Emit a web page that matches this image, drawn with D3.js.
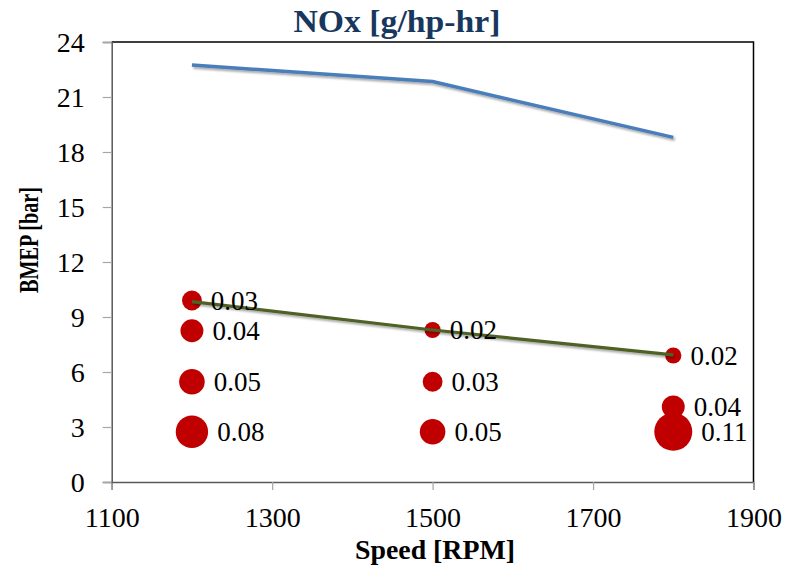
<!DOCTYPE html>
<html>
<head>
<meta charset="utf-8">
<script src="https://cdn.jsdelivr.net/npm/d3@7"></script>
<style>
  body { margin: 0; background: #fff; }
  svg { display: block; }
</style>
</head>
<body>
<svg id="chart" width="791" height="568"></svg>
<script>
'use strict';

// full load curve (max BMEP) and the green operating line
let speeds = [1200, 1500, 1800];
let maxBmep = [22.75, 21.84, 18.8];
let lineBmep = [9.84, 8.29, 6.93];

// bubbles: NOx values at speed / BMEP points
let bubbleSpeed = [1200, 1200, 1200, 1200, 1500, 1500, 1500, 1800, 1800, 1800];
let bubbleBmep = [9.9, 8.25, 5.47, 2.74, 8.29, 5.47, 2.74, 6.9, 4.1, 2.74];
let bubbleNox = [0.03, 0.04, 0.05, 0.08, 0.02, 0.03, 0.05, 0.02, 0.04, 0.11];

let xTicks = [1100, 1300, 1500, 1700, 1900];
let yTicks = [0, 3, 6, 9, 12, 15, 18, 21, 24];

let svg = d3.select('#chart');
let plotLeft = 111.7, plotRight = 753.5, plotTop = 42, plotBottom = 482;

let x = d3.scaleLinear().domain([1100, 1900]).range([plotLeft, plotRight]);
let y = d3.scaleLinear().domain([0, 24]).range([plotBottom, plotTop]);
let r = d3.scaleSqrt().domain([0, 0.11]).range([0, 19]);

let defs = svg.append('defs');
let shadow = defs.append('filter')
  .attr('id', 'shadow')
  .attr('x', '-10%').attr('y', '-50%')
  .attr('width', '120%').attr('height', '200%');
shadow.append('feDropShadow')
  .attr('dx', 1.5).attr('dy', 2)
  .attr('stdDeviation', 1.2)
  .attr('flood-color', '#000')
  .attr('flood-opacity', 0.35);

// frame: top and right
svg.append('path')
  .attr('d', 'M' + plotLeft + ',' + plotTop + 'H' + plotRight + 'V' + plotBottom)
  .attr('fill', 'none')
  .attr('stroke', '#000')
  .attr('stroke-width', 1.5);

let serif = '"Liberation Serif", "DejaVu Serif", serif';

let xAxis = svg.append('g')
  .attr('transform', 'translate(0,' + plotBottom + ')')
  .call(d3.axisBottom(x).tickValues(xTicks).tickFormat(d3.format('d'))
    .tickSize(8).tickPadding(17));
let yAxis = svg.append('g')
  .attr('transform', 'translate(' + plotLeft + ',0)')
  .call(d3.axisLeft(y).tickValues(yTicks).tickSize(9).tickPadding(18));

[xAxis, yAxis].forEach(function(g) {
  g.select('.domain').attr('stroke', '#5a5a5a').attr('stroke-width', 1.5);
  g.selectAll('.tick line').attr('stroke', '#a6a6a6').attr('stroke-width', 1.2);
  g.selectAll('.tick text')
    .attr('fill', '#000')
    .style('font-family', serif)
    .style('font-size', '28px');
});
yAxis.selectAll('.tick text').attr('dy', '0.34em');

let line = d3.line()
  .x(function(d) { return x(d[0]); })
  .y(function(d) { return y(d[1]); });

svg.append('path')
  .datum(d3.zip(speeds, maxBmep))
  .attr('d', line)
  .attr('fill', 'none')
  .attr('stroke', '#4a7ebb')
  .attr('stroke-width', 3.5)
  .attr('filter', 'url(#shadow)');

let bubbles = d3.range(bubbleNox.length).map(function(i) {
  return {speed: bubbleSpeed[i], bmep: bubbleBmep[i], nox: bubbleNox[i]};
});

svg.selectAll('circle.bubble')
  .data(bubbles)
  .enter()
  .append('circle')
  .attr('class', 'bubble')
  .attr('cx', function(d) { return x(d.speed); })
  .attr('cy', function(d) { return y(d.bmep); })
  .attr('r', function(d) { return r(d.nox); })
  .attr('fill', '#c00000');

svg.append('path')
  .datum(d3.zip(speeds, lineBmep))
  .attr('d', line)
  .attr('fill', 'none')
  .attr('stroke', '#4f6228')
  .attr('stroke-width', 3.2)
  .attr('filter', 'url(#shadow)');

svg.selectAll('text.bubble-label')
  .data(bubbles)
  .enter()
  .append('text')
  .attr('class', 'bubble-label')
  .attr('x', function(d) { return x(d.speed) + r(d.nox) + 9; })
  .attr('y', function(d) { return y(d.bmep); })
  .attr('dy', '0.34em')
  .style('font-family', serif)
  .style('font-size', '27px')
  .attr('fill', '#000')
  .text(function(d) { return d3.format('.2f')(d.nox); });

svg.append('text')
  .attr('x', 397)
  .attr('y', 32)
  .attr('text-anchor', 'middle')
  .attr('textLength', 207)
  .attr('lengthAdjust', 'spacingAndGlyphs')
  .style('font-family', serif)
  .style('font-weight', 'bold')
  .style('font-size', '31px')
  .attr('fill', '#17375e')
  .text('NOx [g/hp-hr]');

svg.append('text')
  .attr('x', 435)
  .attr('y', 559)
  .attr('text-anchor', 'middle')
  .attr('textLength', 160)
  .attr('lengthAdjust', 'spacingAndGlyphs')
  .style('font-family', serif)
  .style('font-weight', 'bold')
  .style('font-size', '28px')
  .attr('fill', '#000')
  .text('Speed [RPM]');

svg.append('text')
  .attr('transform', 'translate(38,240) rotate(-90)')
  .attr('text-anchor', 'middle')
  .attr('textLength', 106)
  .attr('lengthAdjust', 'spacingAndGlyphs')
  .style('font-family', serif)
  .style('font-weight', 'bold')
  .style('font-size', '28px')
  .attr('fill', '#000')
  .text('BMEP [bar]');
</script>
</body>
</html>
